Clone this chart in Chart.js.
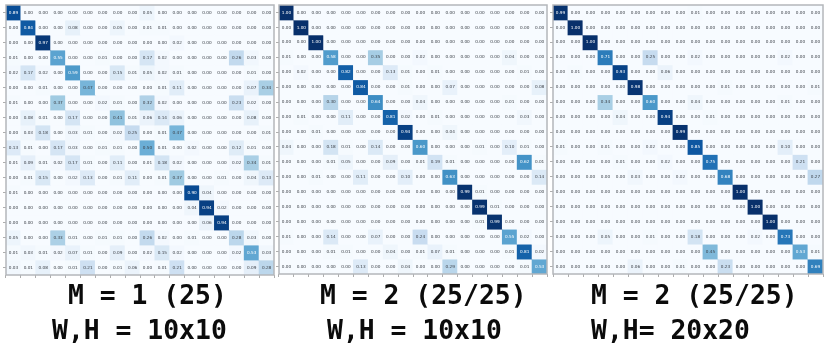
<!DOCTYPE html>
<html><head><meta charset="utf-8">
<style>
html,body{margin:0;padding:0;background:#fff;width:830px;height:347px;overflow:hidden}
canvas{position:absolute;top:0;filter:blur(0.6px)}
.cap{position:absolute;font-family:"DejaVu Sans Mono",monospace;font-size:26.4px;font-weight:bold;color:#0b0b0b;white-space:pre;line-height:30px;filter:blur(0.3px)}
</style>
<script src="https://cdn.jsdelivr.net/npm/chart.js@4"></script>
</head><body>
<canvas id="c0" width="280" height="285" style="left:0"></canvas>
<canvas id="c1" width="280" height="285" style="left:275px"></canvas>
<canvas id="c2" width="280" height="285" style="left:550px"></canvas>
<script>
const categories = ['0','1','2','3','4','5','6','7','8','9','10','11','12','13','14','15','16','17'];
const matrixA = [
[.89,0,0,0,0,0,0,0,0,.05,0,0,0,0,0,0,0,0],
[0,.84,0,0,.08,0,0,.05,0,.01,.01,0,0,0,0,0,0,0],
[0,0,.97,0,0,0,0,0,0,0,0,.02,0,0,0,0,0,0],
[.01,0,0,.55,0,0,.01,0,0,.17,.02,0,0,0,0,.26,.03,0],
[.02,.17,.02,0,.59,0,0,.15,.01,.05,.02,.01,0,0,0,0,.01,0],
[0,0,.01,0,0,.47,0,0,0,0,.01,.11,0,0,0,0,.07,.34],
[.01,0,0,.37,0,0,.02,.01,0,.32,.02,0,0,0,0,.23,.02,0],
[0,.08,.01,0,.17,0,0,.41,.01,.06,.14,.06,0,0,0,0,.08,0],
[0,.03,.18,0,.03,.01,0,.02,.25,0,.01,.47,0,0,0,0,0,.01],
[.13,.01,0,.17,.03,0,.01,.01,0,.50,.01,0,.02,0,0,.12,.01,0],
[.01,.09,.01,.02,.17,.01,0,.11,0,.01,.18,.02,0,0,0,.02,.34,.01],
[0,.01,.15,0,.02,.13,0,.01,.11,0,.01,.37,0,0,.01,0,.04,.13],
[.01,0,0,0,0,0,0,0,0,0,0,0,.90,.04,0,0,0,0],
[0,0,0,0,0,0,0,0,0,0,0,0,.04,.94,.02,0,0,0],
[0,0,0,0,0,0,0,0,0,0,0,0,0,.06,.94,0,0,0],
[.05,0,0,.33,.01,0,.01,.01,0,.26,.02,0,.01,0,0,.28,.03,0],
[.01,.03,.01,.02,.07,.01,0,.09,0,.02,.15,.02,0,0,0,.02,.53,.03],
[.03,.01,.08,0,.01,.21,0,.01,.06,0,.01,.21,0,0,0,0,.09,.28]
];
const matrixB = [
[1,0,0,0,0,0,0,0,0,0,0,0,0,0,0,0,0,0],
[0,1,0,0,0,0,0,0,0,0,0,0,0,0,0,0,0,0],
[0,0,1,0,0,0,0,0,0,0,0,0,0,0,0,0,0,0],
[.01,0,0,.58,0,0,.35,0,0,.02,0,0,0,0,0,.04,0,0],
[0,.02,0,0,.82,0,0,.13,.01,0,.01,0,0,0,0,0,.01,0],
[0,0,0,0,0,.84,0,0,.01,0,0,.07,0,0,0,0,0,.08],
[0,0,0,.30,0,0,.64,0,0,.04,0,0,0,0,0,.01,0,0],
[0,.01,0,0,.11,0,0,.81,.02,0,.01,0,0,0,0,0,.03,0],
[0,0,.01,0,0,0,0,0,.94,0,0,.04,0,0,0,0,0,0],
[.04,0,0,.18,.01,0,.14,0,0,.60,0,0,0,.01,0,.10,.01,0],
[0,0,0,.01,.05,0,0,.09,0,.01,.19,.01,0,0,0,0,.62,.01],
[0,0,.01,0,0,.11,0,0,.10,0,0,.63,0,0,0,0,0,.14],
[0,0,0,0,0,0,0,0,0,0,0,0,.99,.01,0,0,0,0],
[0,0,0,0,0,0,0,0,0,0,0,0,0,.99,.01,0,0,0],
[0,0,0,0,0,0,0,0,0,0,0,0,0,.01,.99,0,0,0],
[.01,0,0,.14,0,0,.07,0,0,.24,0,0,0,0,0,.55,.02,0],
[0,0,0,.01,.01,0,0,.04,0,.01,.07,.01,0,0,0,.01,.81,.02],
[0,0,0,0,0,.13,0,0,.04,0,0,.29,0,0,0,0,.01,.53]
];
const matrixC = [
[.99,0,0,0,0,0,0,0,0,.01,0,0,0,0,0,0,0,0],
[0,1,0,0,0,0,0,0,0,0,0,0,0,0,0,0,0,0],
[0,0,1,0,0,0,0,0,0,0,0,0,0,0,0,0,0,0],
[0,0,0,.71,0,0,.25,0,0,.02,0,0,0,0,0,.02,0,0],
[0,.01,0,0,.93,0,0,.06,0,0,0,0,0,0,0,0,0,0],
[0,0,0,0,0,.98,0,0,0,0,0,.01,0,0,0,0,0,.01],
[0,0,0,.34,0,0,.60,0,0,.04,0,0,0,0,0,.01,0,0],
[0,0,0,0,.04,0,0,.94,0,0,.01,0,0,0,0,0,0,0],
[0,0,0,0,0,0,0,0,.99,0,0,0,0,0,0,0,0,0],
[.01,0,0,.01,0,0,.02,0,0,.85,0,0,0,0,0,.10,0,0],
[0,0,0,0,.01,0,0,.02,0,0,.75,0,0,0,0,0,.21,0],
[0,0,0,0,0,.03,0,0,.02,0,0,.68,0,0,0,0,0,.27],
[0,0,0,0,0,0,0,0,0,0,0,0,1,0,0,0,0,0],
[0,0,0,0,0,0,0,0,0,0,0,0,0,1,0,0,0,0],
[0,0,0,0,0,0,0,0,0,0,0,0,0,0,1,0,0,0],
[0,0,0,.05,0,0,.01,0,0,.18,0,0,0,.02,0,.73,0,0],
[0,0,0,0,0,0,0,0,0,0,.45,0,0,0,0,0,.53,.01],
[0,0,0,0,0,.06,0,0,.01,0,0,.23,0,0,0,0,0,.69]
];
const captions = [
  {text:'M = 1 (25)', left:68, top:280},
  {text:'W,H = 10x10', left:52, top:315},
  {text:'M = 2 (25/25)', left:320, top:280},
  {text:'W,H = 10x10', left:327, top:315},
  {text:'M = 2 (25/25)', left:591, top:280},
  {text:'W,H= 20x20', left:591, top:315}
];
const blues = [[247,251,255],[222,235,247],[198,219,239],[158,202,225],[107,174,214],[66,146,198],[33,113,181],[8,81,156],[8,48,107]];
function blue(v){
  const t = Math.min(.9999,Math.max(0,v))*8, i = Math.floor(t), f = t-i;
  const c = blues[i].map((a,k)=>Math.round(a+(blues[i+1][k]-a)*f));
  return `rgb(${c[0]},${c[1]},${c[2]})`;
}
const cellText = {
  id:'cellText',
  afterDatasetsDraw(chart,args,opts){
    const {ctx,scales:{x,y}} = chart;
    ctx.save();
    ctx.font = '4.2px "DejaVu Sans",sans-serif';
    ctx.textAlign='center';ctx.textBaseline='middle';
    opts.matrix.forEach((row,r)=>row.forEach((v,c)=>{
      ctx.fillStyle = v>.5 ? '#ffffff' : '#3c4148';
      ctx.fillText(v.toFixed(2),x.getPixelForValue(c),y.getPixelForValue(r));
    }));
    ctx.restore();
  },
  afterDraw(chart){
    const {ctx,chartArea:a} = chart;
    ctx.save();ctx.strokeStyle='#b4b7bb';ctx.lineWidth=1.5;
    ctx.strokeRect(a.left,a.top,a.right-a.left,a.bottom-a.top);
    ctx.restore();
  }
};
function draw(id,matrix,padding){
  const rows = matrix.map((_,r)=>r);
  new Chart(document.getElementById(id),{
    type:'bar',
    data:{labels:categories,datasets:matrix.map((row,r)=>({
      data:row.map(()=>[r-.5,r+.5]),
      backgroundColor:row.map(blue),
      borderWidth:0,barPercentage:1,categoryPercentage:1,inflateAmount:.4,grouped:false
    }))},
    options:{
      responsive:false,animation:false,devicePixelRatio:1,
      layout:{padding},
      plugins:{legend:{display:false},tooltip:{enabled:false},cellText:{matrix}},
      scales:{
        x:{type:'category',offset:true,
          grid:{display:true,drawOnChartArea:false,drawTicks:true,tickLength:3,tickColor:'#777',tickWidth:.6},
          border:{display:false},ticks:{display:false},afterFit(s){s.height=0}},
        y:{type:'linear',reverse:true,min:-.5,max:17.5,
          afterBuildTicks(s){s.ticks=rows.map(value=>({value}))},
          grid:{display:true,drawOnChartArea:false,drawTicks:true,tickLength:3,tickColor:'#777',tickWidth:.6},
          border:{display:false},ticks:{display:false},afterFit(s){s.width=0}}
      }
    },
    plugins:[cellText]
  });
}
draw('c0',matrixA,{left:6,top:5,right:6,bottom:10});
draw('c1',matrixB,{left:4,top:5,right:8,bottom:11});
draw('c2',matrixC,{left:3,top:5,right:7,bottom:11});
captions.forEach(c=>{
  const d=document.createElement('div');d.className='cap';d.textContent=c.text;
  d.style.left=c.left+'px';d.style.top=c.top+'px';document.body.appendChild(d);
});
</script>
</body></html>
